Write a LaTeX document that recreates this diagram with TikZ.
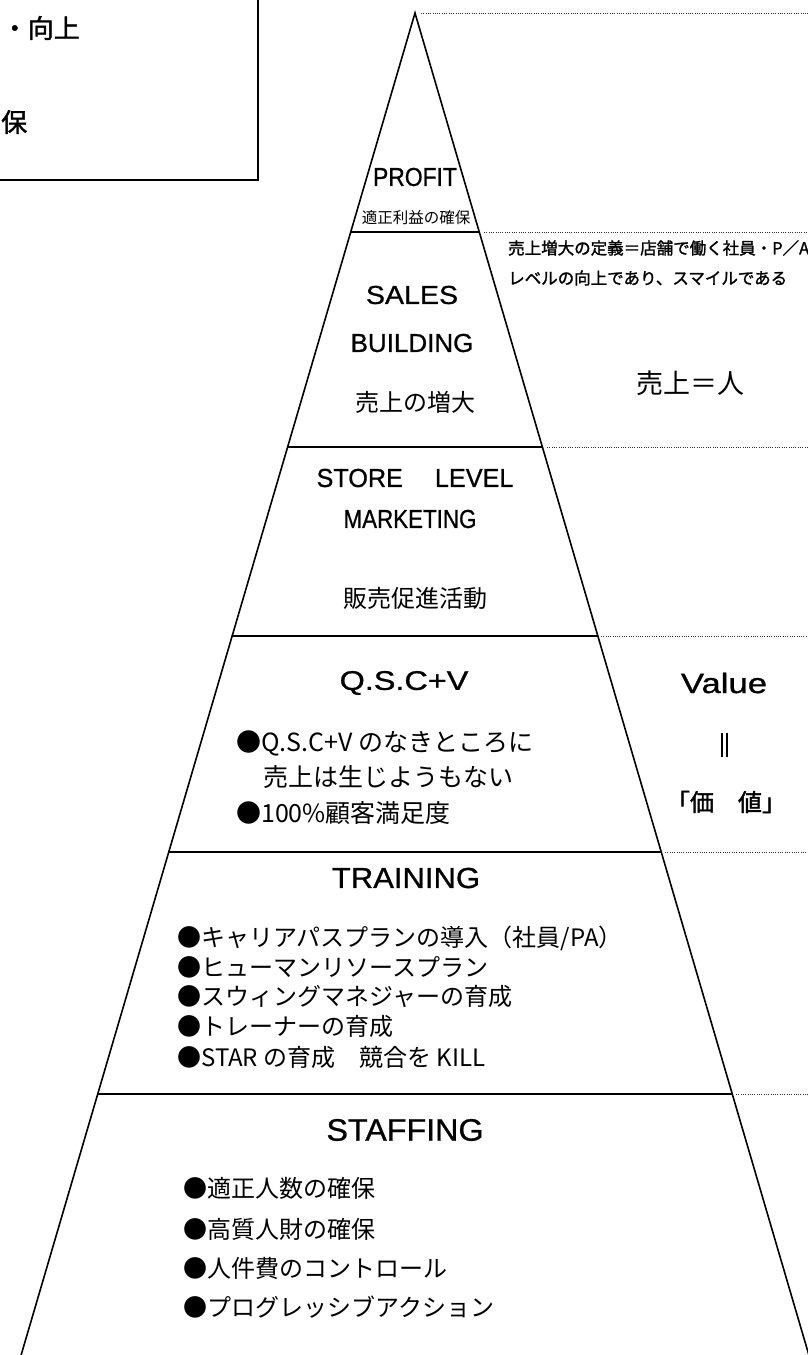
\documentclass[tikz,border=0pt]{standalone}
\usepackage{fontspec}
\usepackage{graphicx}
\setmainfont{Noto Sans CJK JP}
\newfontfamily\jpb[FakeBold=1.5]{Noto Sans CJK JP}
\newfontfamily\hd[FakeBold=0.8]{Liberation Sans}
\newcommand\myhs[3]{\fontsize{#1}{#1}\selectfont\scalebox{#2}[1]{#3}}
\newcommand\myjs[1]{\fontsize{#1}{#1}\selectfont}
\tikzset{
  pyr/.style={line width=1.6pt, line cap=round},
  dots/.style={line width=0.9pt, dash pattern=on 0.9pt off 1.4pt, black!80},
  head/.style={font=\hd, inner sep=0},
  jpl/.style={inner sep=0, anchor=west},
  jpc/.style={inner sep=0},
}
\begin{document}
\begin{tikzpicture}[x=1pt,y=-1pt]
\useasboundingbox (0,0) rectangle (808,1355);
\clip (0,0) rectangle (808,1355);
% top-left box
\draw[line width=1.5pt] (-5,-5) rectangle (258,180);
\node[inner sep=0, anchor=east] (b1) at (80,28) {\jpb\myjs{26}・向上};
\node[inner sep=0, anchor=west] (b2) at (1,122) {\jpb\myjs{26}保};
% pyramid
\coordinate (apex) at (415,13);
\coordinate (bl) at (18.2,1365);
\coordinate (br) at (811.8,1365);
\draw[pyr] (bl) -- (apex) -- (br);
\draw[pyr] (350.7,232) -- (479.3,232);
\draw[pyr] (287.6,447) -- (542.4,447);
\draw[pyr] (232.1,636) -- (597.9,636);
\draw[pyr] (168.8,852) -- (661.2,852);
\draw[pyr] (97.7,1094) -- (732.3,1094);
% dotted guide lines
\draw[dots] (421,13) -- (808,13);
\draw[dots] (484,232) -- (808,232);
\draw[dots] (547,447) -- (808,447);
\draw[dots] (601,636) -- (808,636);
\draw[dots] (665,852) -- (808,852);
\draw[dots] (736,1094) -- (808,1094);
% PROFIT
\node[head] (profit) at (415,177) {\myhs{26}{0.88}{PROFIT}};
\node[jpc] (profitj) at (416,218) {\myjs{15.5}適正利益の確保};
% SALES BUILDING
\node[head] (sales) at (412,295) {\myhs{26}{1.1}{SALES}};
\node[head] (building) at (412,343) {\myhs{26}{1.0}{BUILDING}};
\node[jpc] (salesj) at (415,402) {\myjs{24}売上の増大};
% STORE LEVEL MARKETING
\node[head] (store) at (415,478) {\myhs{26}{0.97}{STORE\hspace{33pt}LEVEL}};
\node[head] (mkt) at (410,519) {\myhs{26}{0.86}{MARKETING}};
\node[jpc] (storej) at (415,598) {\myjs{24}販売促進活動};
% QSC+V
\node[head] (qsc) at (404,683) {\myhs{27}{1.2}{Q.S.C+V}};
\node[jpl] (q1) at (236,743) {\myjs{25}●Q.S.C+V のなきところに};
\node[jpl] (q2) at (263,777) {\myjs{25}売上は生じようもない};
\node[jpl] (q3) at (236,813) {\myjs{25}●100\%顧客満足度};
% TRAINING
\node[head] (train) at (406,878) {\myhs{29}{1.07}{TRAINING}};
\node[jpl] (t1) at (177,938) {\myjs{24}●キャリアパスプランの導入（社員/PA）};
\node[jpl] (t2) at (177,967) {\myjs{24}●ヒューマンリソースプラン};
\node[jpl] (t3) at (177,996) {\myjs{24}●スウィングマネジャーの育成};
\node[jpl] (t4) at (177,1026) {\myjs{24}●トレーナーの育成};
\node[jpl] (t5) at (177,1057) {\myjs{24}●STAR の育成　競合を KILL};
% STAFFING
\node[head] (staff) at (405,1130) {\myhs{31}{1.04}{STAFFING}};
\node[jpl] (s1) at (183,1188) {\myjs{24}●適正人数の確保};
\node[jpl] (s2) at (183,1229) {\myjs{24}●高質人財の確保};
\node[jpl] (s3) at (183,1268) {\myjs{24}●人件費のコントロール};
\node[jpl] (s4) at (183,1307) {\myjs{24}●プログレッシブアクション};
% right side texts
\node[jpl] (r1) at (508,248) {\jpb\myjs{16.5}売上増大の定義＝店舗で働く社員・P／A};
\node[jpl] (r2) at (508,278) {\jpb\myjs{16.5}レベルの向上であり、スマイルである};
\node[jpc] (r3) at (690,383) {\myjs{27}売上＝人};
\node[head] (value) at (724,683) {\myhs{28}{1.24}{Value}};
\coordinate (vbar) at (724.5,745);
\draw[line width=1.1pt] ([xshift=-2.5pt,yshift=12pt]vbar) -- ([xshift=-2.5pt,yshift=-12pt]vbar);
\draw[line width=1.1pt] ([xshift=2.5pt,yshift=12pt]vbar) -- ([xshift=2.5pt,yshift=-12pt]vbar);
\node[jpc] (kachi) at (726,802) {\jpb\myjs{24}「価　値」};
\end{tikzpicture}
\end{document}
